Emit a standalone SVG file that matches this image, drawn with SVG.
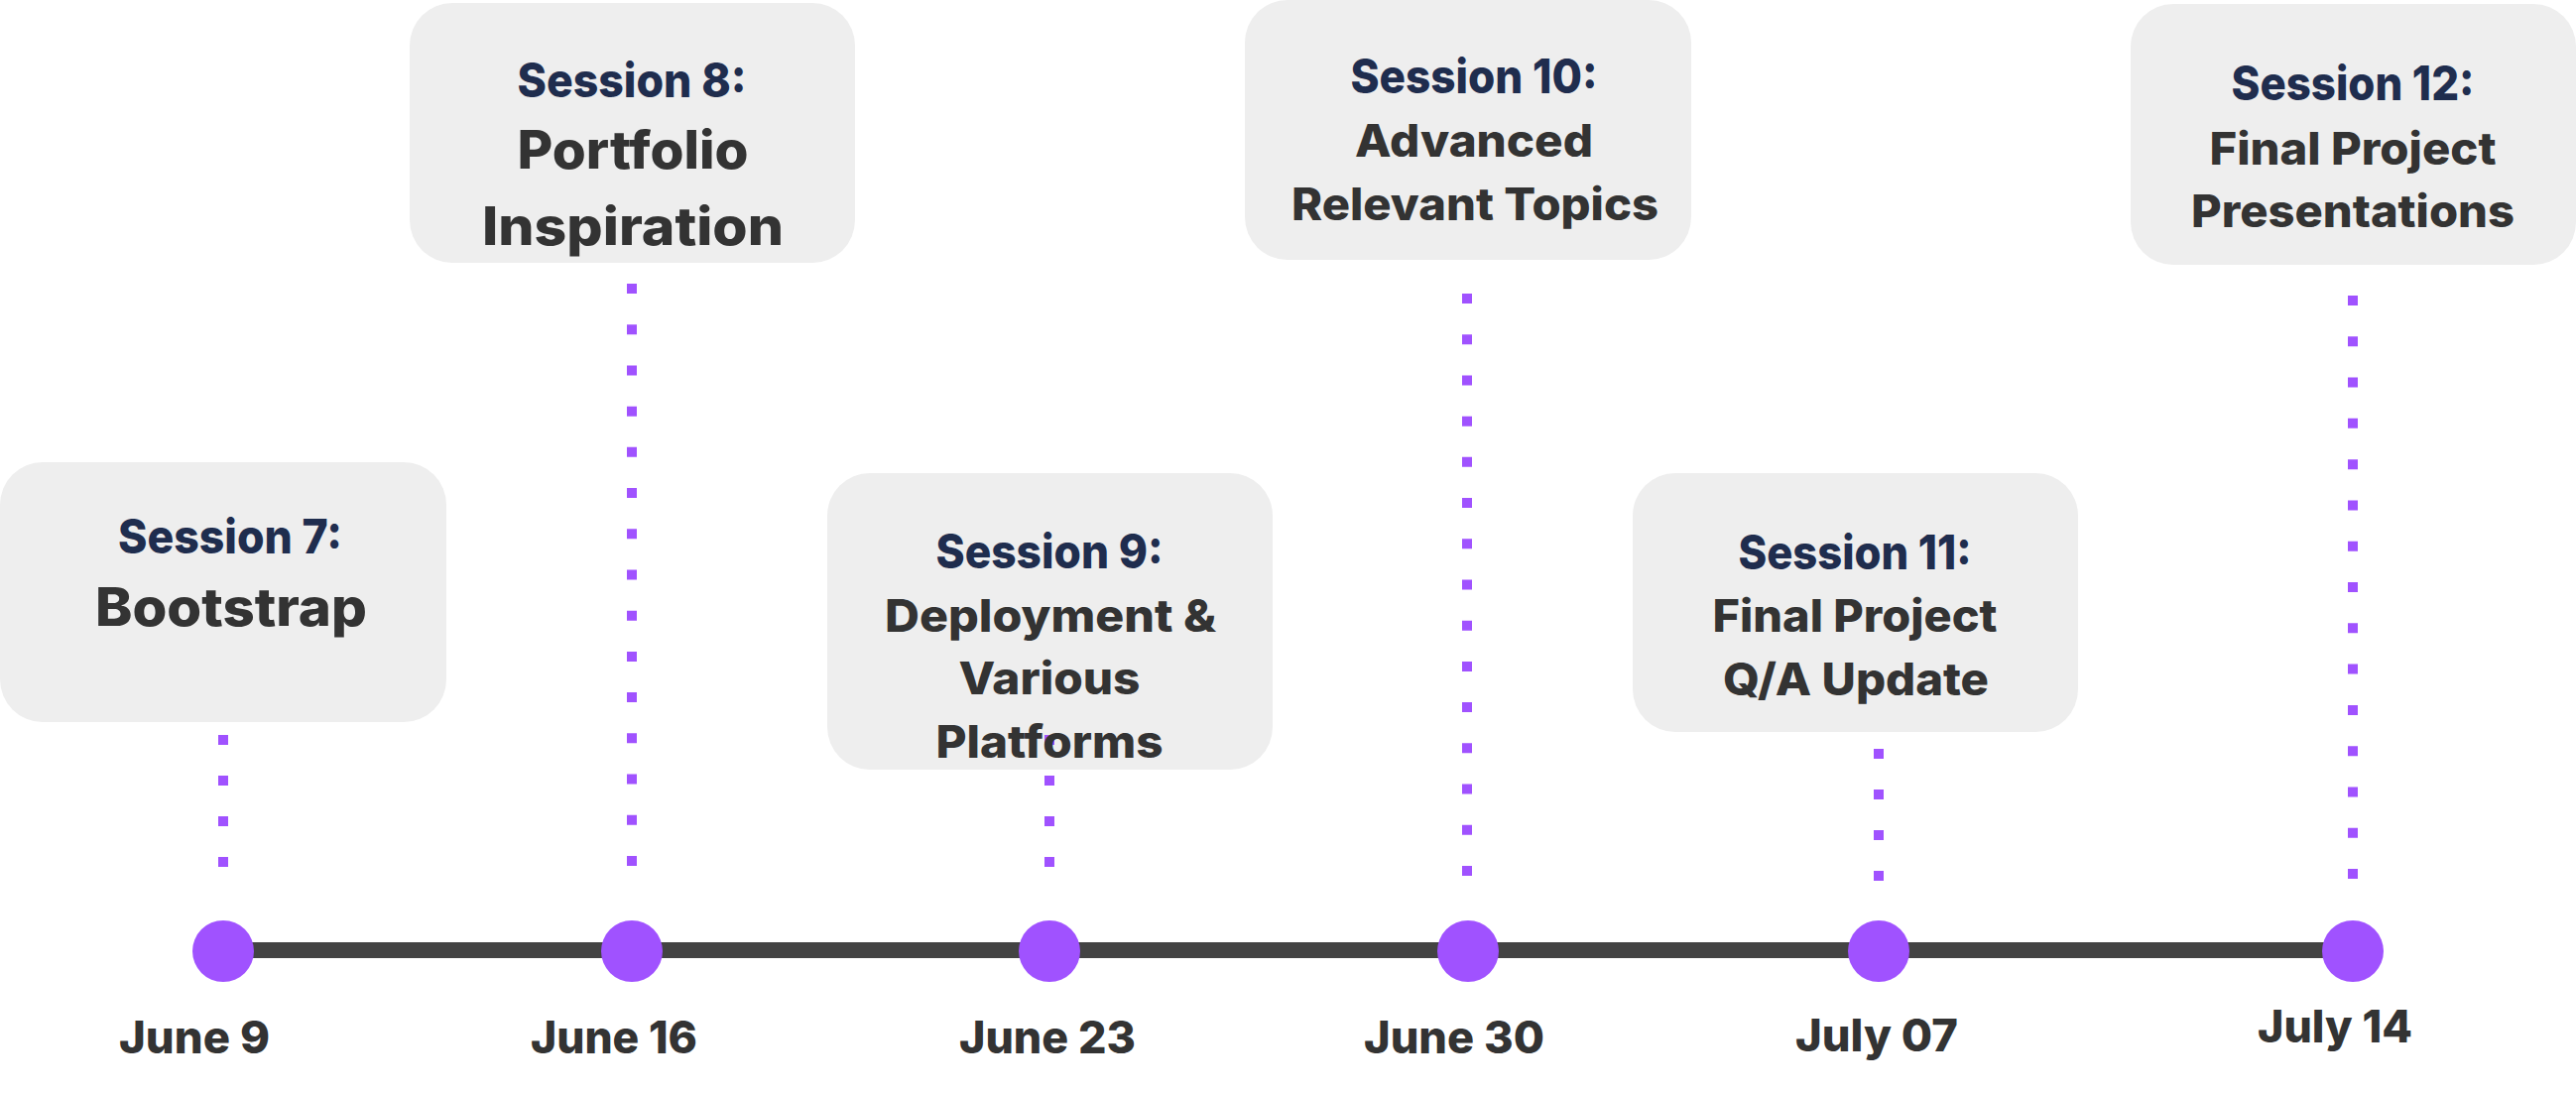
<svg xmlns="http://www.w3.org/2000/svg" width="2597" height="1103" viewBox="0 0 2597 1103">
<style>
.box{fill:#EEEEEE}
.t{font-family:"Inter","Noto Sans","Liberation Sans",sans-serif;font-weight:800;text-anchor:middle}
.h{fill:#1F2D4E;font-size:48px}
.b{fill:#333333;font-size:53px}
.m{fill:#333333;font-size:45px}
.d{fill:#333333;font-size:45px}
.dot{stroke:#A052FF;stroke-width:10;fill:none}
.node{fill:#A052FF}
</style>
<rect width="2597" height="1103" fill="#FFFFFF"/>
<g id="boxes">
<rect class="box" x="0" y="466" width="450" height="262" rx="43"/>
<rect class="box" x="413" y="3" width="449" height="262" rx="43"/>
<rect class="box" x="834" y="477" width="449" height="299" rx="43"/>
<rect class="box" x="1255" y="0" width="450" height="262" rx="43"/>
<rect class="box" x="1646" y="477" width="449" height="261" rx="43"/>
<rect class="box" x="2148" y="4" width="449" height="263" rx="43"/>
</g>
<g id="connectors">
<line x1="225" y1="958" x2="2372" y2="958" stroke="#434343" stroke-width="16"/>
<line class="dot" x1="225" y1="741" x2="225" y2="875" stroke-dasharray="10 31"/>
<line class="dot" x1="637" y1="286" x2="637" y2="874" stroke-dasharray="10 31.21"/>
<line class="dot" x1="1058" y1="741" x2="1058" y2="875" stroke-dasharray="10 31"/>
<line class="dot" x1="1479" y1="296" x2="1479" y2="884" stroke-dasharray="10 31.21"/>
<line class="dot" x1="1894" y1="755" x2="1894" y2="889" stroke-dasharray="10 31"/>
<line class="dot" x1="2372" y1="298" x2="2372" y2="887" stroke-dasharray="10 31.29"/>
</g>
<g id="session7">
<text class="t h" x="232" y="558" textLength="226" lengthAdjust="spacingAndGlyphs">Session 7:</text>
<text class="t b" x="233" y="631" textLength="274" lengthAdjust="spacingAndGlyphs">Bootstrap</text>
</g>
<g id="session8">
<text class="t h" x="637" y="98" textLength="231" lengthAdjust="spacingAndGlyphs">Session 8:</text>
<text class="t b" x="638" y="170" textLength="233" lengthAdjust="spacingAndGlyphs">Portfolio</text>
<text class="t b" x="638" y="247" textLength="304" lengthAdjust="spacingAndGlyphs">Inspiration</text>
</g>
<g id="session9">
<text class="t h" x="1058" y="573" textLength="229" lengthAdjust="spacingAndGlyphs">Session 9:</text>
<text class="t m" x="1059" y="637" textLength="334" lengthAdjust="spacingAndGlyphs">Deployment &amp;</text>
<text class="t m" x="1058" y="700" textLength="183" lengthAdjust="spacingAndGlyphs">Various</text>
<text class="t m" x="1058" y="764" textLength="229" lengthAdjust="spacingAndGlyphs">Platforms</text>
</g>
<g id="session10">
<text class="t h" x="1486" y="94" textLength="249" lengthAdjust="spacingAndGlyphs">Session 10:</text>
<text class="t m" x="1486" y="158" textLength="240" lengthAdjust="spacingAndGlyphs">Advanced</text>
<text class="t m" x="1487" y="222" textLength="370" lengthAdjust="spacingAndGlyphs">Relevant Topics</text>
</g>
<g id="session11">
<text class="t h" x="1870" y="574" textLength="235" lengthAdjust="spacingAndGlyphs">Session 11:</text>
<text class="t m" x="1870" y="637" textLength="287" lengthAdjust="spacingAndGlyphs">Final Project</text>
<text class="t m" x="1871" y="701" textLength="268" lengthAdjust="spacingAndGlyphs">Q/A Update</text>
</g>
<g id="session12">
<text class="t h" x="2372" y="101" textLength="245" lengthAdjust="spacingAndGlyphs">Session 12:</text>
<text class="t m" x="2372" y="166" textLength="289" lengthAdjust="spacingAndGlyphs">Final Project</text>
<text class="t m" x="2372" y="229" textLength="326" lengthAdjust="spacingAndGlyphs">Presentations</text>
</g>
<g id="milestones">
<g id="m-june9"><circle class="node" cx="225" cy="959" r="31"/><text class="t d" x="196" y="1062" textLength="152" lengthAdjust="spacingAndGlyphs">June 9</text></g>
<g id="m-june16"><circle class="node" cx="637" cy="959" r="31"/><text class="t d" x="619" y="1062" textLength="168" lengthAdjust="spacingAndGlyphs">June 16</text></g>
<g id="m-june23"><circle class="node" cx="1058" cy="959" r="31"/><text class="t d" x="1056" y="1062" textLength="178" lengthAdjust="spacingAndGlyphs">June 23</text></g>
<g id="m-june30"><circle class="node" cx="1480" cy="959" r="31"/><text class="t d" x="1466" y="1062" textLength="182" lengthAdjust="spacingAndGlyphs">June 30</text></g>
<g id="m-july07"><circle class="node" cx="1894" cy="959" r="31"/><text class="t d" x="1892" y="1060" textLength="164" lengthAdjust="spacingAndGlyphs">July 07</text></g>
<g id="m-july14"><circle class="node" cx="2372" cy="959" r="31"/><text class="t d" x="2354" y="1051" textLength="156" lengthAdjust="spacingAndGlyphs">July 14</text></g>
</g>
</svg>
